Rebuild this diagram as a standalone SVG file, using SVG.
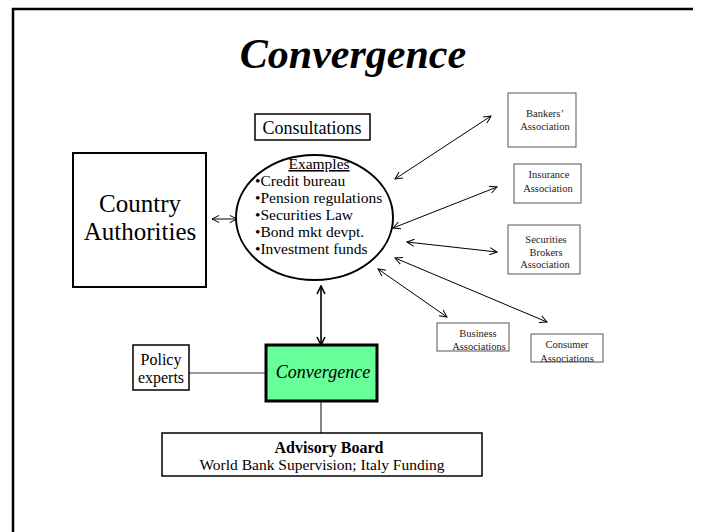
<svg xmlns="http://www.w3.org/2000/svg" width="705" height="532" viewBox="0 0 705 532">
  <style>
    text { font-family: "Liberation Serif", "Times New Roman", serif; fill: #000; }
    .box { fill: #fff; stroke: #000; stroke-width: 1.5; }
    .org { fill: #fff; stroke: #555; stroke-width: 1; }
    .org-t { font-size: 10.5px; text-anchor: middle; fill: #222; }
    .link { stroke: #000; stroke-width: 1; fill: none; marker-start: url(#arr); marker-end: url(#arr); }
    .plain { stroke: #333; stroke-width: 1.2; fill: none; }
    .item { font-size: 15.5px; }
  </style>
  <defs>
    <marker id="arr" viewBox="0 0 10 10" refX="9" refY="5" markerWidth="9" markerHeight="9" markerUnits="userSpaceOnUse" orient="auto-start-reverse">
      <path d="M1,1 L9,5 L1,9" fill="none" stroke="#000" stroke-width="1.1"/>
    </marker>
    <marker id="arrB" viewBox="0 0 10 10" refX="9" refY="5" markerWidth="10" markerHeight="10" markerUnits="userSpaceOnUse" orient="auto-start-reverse">
      <path d="M1,1 L9,5 L1,9" fill="none" stroke="#000" stroke-width="1.6"/>
    </marker>
  </defs>

  <rect width="705" height="532" fill="#fff"/>
  <!-- slide frame -->
  <path d="M13,532 L13,9 L693,9" fill="none" stroke="#000" stroke-width="2.5"/>

  <text x="353" y="68" font-size="42" font-weight="bold" font-style="italic" text-anchor="middle">Convergence</text>

  <!-- connectors -->
  <g id="connectors">
    <line class="link" x1="212" y1="219" x2="237" y2="219"/>
    <line class="link" x1="395" y1="179" x2="491" y2="116"/>
    <line class="link" x1="393" y1="228" x2="497" y2="187"/>
    <line class="link" x1="407" y1="242" x2="497" y2="252"/>
    <line class="link" x1="395" y1="258" x2="547" y2="322"/>
    <line class="link" x1="378" y1="269" x2="447" y2="317"/>
    <line x1="321" y1="286" x2="321" y2="345" stroke="#000" stroke-width="1.6" marker-start="url(#arrB)" marker-end="url(#arrB)"/>
    <line class="plain" x1="189" y1="373" x2="266" y2="373"/>
    <line class="plain" x1="321" y1="401" x2="321" y2="433"/>
  </g>

  <g id="consultations">
    <rect class="box" x="255" y="114" width="115" height="26"/>
    <text x="312" y="134" font-size="18" text-anchor="middle">Consultations</text>
  </g>

  <g id="examples">
    <ellipse cx="314.5" cy="217.5" rx="78.5" ry="62.5" fill="#fff" stroke="#000" stroke-width="2"/>
    <text x="319" y="169" font-size="15.5" text-anchor="middle" text-decoration="underline">Examples</text>
    <text class="item" x="255" y="186">•Credit bureau</text>
    <text class="item" x="255" y="203">•Pension regulations</text>
    <text class="item" x="255" y="220">•Securities Law</text>
    <text class="item" x="255" y="237">•Bond mkt devpt.</text>
    <text class="item" x="255" y="254">•Investment funds</text>
  </g>

  <g id="country-authorities">
    <rect x="73" y="153" width="133" height="134" fill="#fff" stroke="#000" stroke-width="2"/>
    <text x="140" y="212" font-size="25" text-anchor="middle">Country</text>
    <text x="140" y="240" font-size="25" text-anchor="middle">Authorities</text>
  </g>

  <g id="bankers">
    <rect class="org" x="508" y="93" width="68" height="54"/>
    <text class="org-t" x="545" y="117">Bankers’</text>
    <text class="org-t" x="545" y="130">Association</text>
  </g>

  <g id="insurance">
    <rect class="org" x="514" y="164" width="67" height="39"/>
    <text class="org-t" x="549" y="178">Insurance</text>
    <text class="org-t" x="548" y="192">Association</text>
  </g>

  <g id="securities-brokers">
    <rect class="org" x="508" y="225" width="72" height="49"/>
    <text class="org-t" x="546" y="243">Securities</text>
    <text class="org-t" x="546" y="256">Brokers</text>
    <text class="org-t" x="545" y="268">Association</text>
  </g>

  <g id="business">
    <rect class="org" x="437" y="323" width="72" height="28"/>
    <text class="org-t" x="478" y="337">Business</text>
    <text class="org-t" x="479" y="350">Associations</text>
  </g>

  <g id="consumer">
    <rect class="org" x="531" y="334" width="72" height="28"/>
    <text class="org-t" x="567" y="348">Consumer</text>
    <text class="org-t" x="567" y="362">Associations</text>
  </g>

  <g id="policy-experts">
    <rect class="box" x="133" y="345" width="56" height="45"/>
    <text x="161" y="365" font-size="16" text-anchor="middle">Policy</text>
    <text x="161" y="383" font-size="16" text-anchor="middle">experts</text>
  </g>

  <g id="convergence">
    <rect x="266" y="345" width="111" height="56" fill="#66ff99" stroke="#000" stroke-width="3"/>
    <text x="323" y="378" font-size="18" font-style="italic" text-anchor="middle">Convergence</text>
  </g>

  <g id="advisory-board">
    <rect class="box" x="162" y="433" width="320" height="43"/>
    <text x="329" y="453" font-size="16" font-weight="bold" text-anchor="middle">Advisory Board</text>
    <text x="322" y="470" font-size="15.5" text-anchor="middle">World Bank Supervision; Italy Funding</text>
  </g>
</svg>
